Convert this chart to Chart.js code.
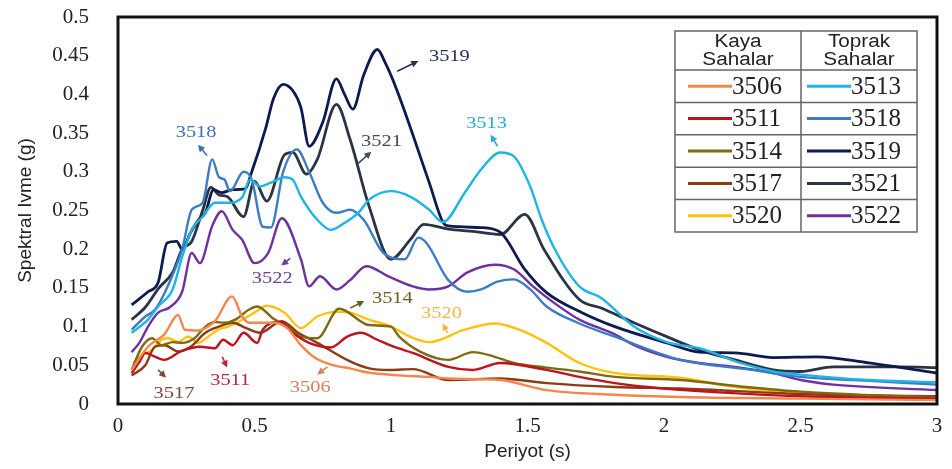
<!DOCTYPE html>
<html>
<head>
<meta charset="utf-8">
<script src="https://cdn.jsdelivr.net/npm/chart.js@4.4.1/dist/chart.umd.min.js"></script>
<style>
  html, body { margin: 0; padding: 0; background: #fff; }
</style>
</head>
<body>
<canvas id="chart" width="952" height="469"></canvas>
<script>
// ── Axis ticks ────────────────────────────────────────────────────────────────
const xTicks = [0, 0.5, 1, 1.5, 2, 2.5, 3];
const yTicks = [0, 0.05, 0.1, 0.15, 0.2, 0.25, 0.3, 0.35, 0.4, 0.45, 0.5];

// ── Kaya sahalar (rock sites): period (s) and spectral acceleration (g) ──────
const t3506 = [0.05,0.11,0.17,0.22,0.245,0.29,0.355,0.418,0.455,0.48,0.57,0.62,0.67,0.72,0.79,0.85,0.91,1.03,1.14,1.21,1.4,1.57,1.82,2.06,2.5,3.0];
const v3506 = [0.044,0.074,0.09,0.115,0.096,0.095,0.107,0.139,0.113,0.105,0.105,0.098,0.076,0.06,0.05,0.046,0.041,0.037,0.035,0.033,0.031,0.018,0.012,0.009,0.007,0.005];

const t3511 = [0.05,0.08,0.1,0.13,0.17,0.23,0.3,0.355,0.385,0.42,0.46,0.51,0.53,0.595,0.64,0.7,0.78,0.84,0.89,0.95,1.01,1.08,1.21,1.3,1.4,1.57,1.69,1.82,1.94,2.2,2.5,3.0];
const v3511 = [0.04,0.055,0.066,0.062,0.057,0.068,0.074,0.072,0.083,0.076,0.092,0.079,0.096,0.106,0.092,0.079,0.073,0.087,0.092,0.083,0.074,0.066,0.048,0.044,0.053,0.044,0.035,0.027,0.022,0.015,0.01,0.007];

const t3514 = [0.05,0.088,0.125,0.16,0.2,0.235,0.28,0.32,0.355,0.39,0.43,0.48,0.51,0.57,0.62,0.67,0.73,0.81,0.92,1.0,1.03,1.11,1.21,1.3,1.38,1.45,1.57,1.69,1.82,2.06,2.3,2.5,3.0];
const v3514 = [0.044,0.074,0.085,0.076,0.08,0.079,0.085,0.1,0.106,0.105,0.109,0.122,0.126,0.11,0.1,0.087,0.085,0.123,0.102,0.1,0.087,0.067,0.057,0.067,0.061,0.053,0.047,0.042,0.035,0.031,0.022,0.016,0.008];

const t3517 = [0.05,0.1,0.135,0.17,0.22,0.27,0.32,0.37,0.42,0.47,0.52,0.6,0.66,0.73,0.85,0.92,1.0,1.08,1.21,1.4,1.57,1.82,2.06,2.5,3.0];
const v3517 = [0.037,0.05,0.074,0.076,0.068,0.075,0.092,0.1,0.105,0.098,0.092,0.107,0.092,0.079,0.055,0.046,0.044,0.045,0.031,0.033,0.027,0.022,0.02,0.013,0.01];

const t3520 = [0.055,0.088,0.125,0.16,0.185,0.22,0.257,0.294,0.33,0.367,0.403,0.455,0.5,0.545,0.61,0.67,0.73,0.8,0.85,0.92,1.0,1.07,1.14,1.27,1.38,1.47,1.57,1.69,1.82,2.06,2.26,2.5,3.0];
const v3520 = [0.053,0.063,0.07,0.083,0.085,0.08,0.087,0.079,0.087,0.096,0.1,0.109,0.118,0.127,0.118,0.098,0.113,0.119,0.118,0.109,0.1,0.087,0.08,0.096,0.104,0.096,0.079,0.053,0.04,0.034,0.022,0.014,0.008];

// ── Toprak sahalar (soil sites) ───────────────────────────────────────────────
const t3513 = [0.05,0.11,0.147,0.2,0.235,0.27,0.31,0.355,0.403,0.455,0.484,0.52,0.56,0.61,0.64,0.67,0.73,0.78,0.83,0.88,0.92,1.0,1.07,1.14,1.19,1.27,1.33,1.4,1.45,1.51,1.55,1.6,1.69,1.77,1.89,2.01,2.13,2.28,2.4,2.5,2.75,3.0];
const v3513 = [0.092,0.109,0.126,0.148,0.19,0.225,0.242,0.26,0.26,0.267,0.29,0.281,0.286,0.293,0.29,0.268,0.238,0.225,0.234,0.247,0.264,0.275,0.268,0.251,0.235,0.273,0.303,0.325,0.32,0.281,0.24,0.2,0.152,0.137,0.1,0.08,0.072,0.053,0.042,0.038,0.031,0.028];

const t3518 = [0.05,0.1,0.136,0.17,0.235,0.27,0.31,0.345,0.37,0.39,0.41,0.46,0.49,0.53,0.56,0.605,0.655,0.7,0.75,0.8,0.85,0.9,0.97,1.05,1.1,1.13,1.21,1.28,1.33,1.39,1.45,1.51,1.57,1.69,1.82,2.06,2.3,2.5,2.75,3.0];
const v3518 = [0.096,0.113,0.122,0.143,0.2,0.251,0.26,0.316,0.293,0.29,0.275,0.3,0.29,0.229,0.228,0.3,0.329,0.3,0.26,0.247,0.251,0.238,0.196,0.187,0.215,0.208,0.16,0.145,0.148,0.158,0.161,0.148,0.126,0.104,0.087,0.057,0.045,0.035,0.03,0.025];

const t3519 = [0.05,0.11,0.147,0.18,0.215,0.235,0.265,0.295,0.32,0.35,0.38,0.42,0.466,0.49,0.54,0.57,0.605,0.64,0.67,0.7,0.75,0.8,0.83,0.86,0.9,0.95,0.98,1.02,1.14,1.19,1.21,1.33,1.4,1.49,1.57,1.7,1.82,2.01,2.13,2.26,2.4,2.56,2.75,3.0];
const v3519 = [0.128,0.145,0.157,0.208,0.21,0.2,0.221,0.238,0.247,0.277,0.273,0.277,0.278,0.3,0.355,0.395,0.413,0.405,0.383,0.333,0.364,0.42,0.4,0.381,0.425,0.458,0.44,0.407,0.286,0.235,0.23,0.228,0.222,0.174,0.144,0.118,0.1,0.079,0.067,0.066,0.06,0.061,0.053,0.04];

const t3521 = [0.05,0.1,0.15,0.2,0.235,0.27,0.31,0.34,0.37,0.4,0.46,0.5,0.545,0.61,0.64,0.69,0.73,0.8,0.85,0.92,1.0,1.07,1.12,1.21,1.3,1.4,1.49,1.56,1.69,1.77,1.89,2.01,2.13,2.26,2.4,2.5,2.62,2.87,3.0];
const v3521 = [0.109,0.125,0.15,0.17,0.2,0.21,0.25,0.28,0.27,0.268,0.242,0.288,0.262,0.322,0.325,0.297,0.316,0.387,0.342,0.255,0.187,0.212,0.232,0.226,0.223,0.219,0.245,0.2,0.135,0.124,0.105,0.087,0.07,0.057,0.044,0.042,0.048,0.048,0.047];

const t3522 = [0.05,0.08,0.11,0.147,0.19,0.235,0.27,0.3,0.345,0.38,0.42,0.455,0.5,0.55,0.6,0.67,0.7,0.74,0.8,0.85,0.91,0.99,1.08,1.14,1.21,1.28,1.38,1.45,1.52,1.6,1.69,1.82,1.89,2.01,2.13,2.28,2.4,2.5,2.62,3.0];
const v3522 = [0.067,0.08,0.1,0.118,0.125,0.145,0.195,0.182,0.23,0.249,0.225,0.212,0.182,0.195,0.24,0.187,0.152,0.165,0.148,0.16,0.178,0.165,0.152,0.148,0.152,0.17,0.18,0.174,0.152,0.13,0.109,0.09,0.076,0.061,0.053,0.047,0.04,0.031,0.025,0.018];

// ── Series list (legend order: left column rock, right column soil) ──────────
const rockSeries = [
  { name: "3506", t: t3506, v: v3506, color: "#F4874B" },
  { name: "3511", t: t3511, v: v3511, color: "#C0111F" },
  { name: "3514", t: t3514, v: v3514, color: "#7F6A12" },
  { name: "3517", t: t3517, v: v3517, color: "#8A3C12" },
  { name: "3520", t: t3520, v: v3520, color: "#FFC20E" }
];
const soilSeries = [
  { name: "3513", t: t3513, v: v3513, color: "#1FB4E8" },
  { name: "3518", t: t3518, v: v3518, color: "#3B7DC4" },
  { name: "3519", t: t3519, v: v3519, color: "#0E1A4F" },
  { name: "3521", t: t3521, v: v3521, color: "#2B3444" },
  { name: "3522", t: t3522, v: v3522, color: "#7030A0" }
];

// ── In-plot labels with small arrows (data units) ─────────────────────────────
const notes = [
  { text: "3518", x: 0.286, y: 0.351, from: [0.326, 0.321], to: [0.293, 0.335], color: "#3F6FAF" },
  { text: "3519", x: 1.214, y: 0.449, from: [1.023, 0.430], to: [1.100, 0.443], color: "#27325A" },
  { text: "3521", x: 0.965, y: 0.339, from: [0.880, 0.311], to: [0.928, 0.326], color: "#444A55" },
  { text: "3513", x: 1.350, y: 0.363, from: [1.390, 0.333], to: [1.365, 0.348], color: "#2AAAE0" },
  { text: "3522", x: 0.565, y: 0.162, from: [0.631, 0.188], to: [0.598, 0.179], color: "#6E3F98" },
  { text: "3514", x: 1.005, y: 0.136, from: [0.851, 0.124], to: [0.902, 0.133], color: "#6B5C22" },
  { text: "3520", x: 1.185, y: 0.117, from: [1.207, 0.092], to: [1.189, 0.104], color: "#F2B845" },
  { text: "3517", x: 0.205, y: 0.014, from: [0.147, 0.044], to: [0.176, 0.034], color: "#7A4A3C" },
  { text: "3511", x: 0.411, y: 0.030, from: [0.382, 0.061], to: [0.400, 0.047], color: "#B52A3A" },
  { text: "3506", x: 0.704, y: 0.021, from: [0.767, 0.048], to: [0.730, 0.038], color: "#D6805E" }
];

const allSeries = rockSeries.concat(soilSeries);
const datasets = allSeries.map(s => ({
  label: s.name,
  data: s.t.map((t, i) => ({ x: t, y: s.v[i] })),
  borderColor: s.color,
  backgroundColor: s.color,
  borderWidth: (s.name === "3519" || s.name === "3521") ? 2.8 : 2.4,
  pointRadius: 0,
  fill: false,
  cubicInterpolationMode: "monotone"
}));

// Draw text stretched horizontally (the source figure is widened)
function wideText(ctx, text, x, y, sx) {
  ctx.save();
  ctx.translate(x, y);
  ctx.scale(sx, 1);
  ctx.fillText(text, 0, 0);
  ctx.restore();
}

function arrow(ctx, x1, y1, x2, y2, color) {
  const ang = Math.atan2(y2 - y1, x2 - x1);
  ctx.save();
  ctx.strokeStyle = color;
  ctx.fillStyle = color;
  ctx.lineWidth = 1.6;
  ctx.beginPath();
  ctx.moveTo(x1, y1);
  ctx.lineTo(x2 - 4 * Math.cos(ang), y2 - 4 * Math.sin(ang));
  ctx.stroke();
  ctx.beginPath();
  ctx.moveTo(x2, y2);
  ctx.lineTo(x2 - 7 * Math.cos(ang) + 3.5 * Math.sin(ang), y2 - 7 * Math.sin(ang) - 3.5 * Math.cos(ang));
  ctx.lineTo(x2 - 7 * Math.cos(ang) - 3.5 * Math.sin(ang), y2 - 7 * Math.sin(ang) + 3.5 * Math.cos(ang));
  ctx.closePath();
  ctx.fill();
  ctx.restore();
}

// Scales add their own label overhang padding; the frame is placed by layout padding instead
function noOverhang(s) {
  s.paddingTop = 0; s.paddingBottom = 0; s.paddingLeft = 0; s.paddingRight = 0;
}

// ── Frame, labels and legend table ────────────────────────────────────────────
const decorPlugin = {
  id: "decor",
  afterDatasetsDraw(chart) {
    const ctx = chart.ctx;
    const a = chart.chartArea;
    const xs = chart.scales.x, ys = chart.scales.y;

    // plot frame
    ctx.save();
    ctx.strokeStyle = "#111";
    ctx.lineWidth = 3;
    ctx.strokeRect(a.left, a.top, a.right - a.left, a.bottom - a.top);
    ctx.restore();

    // labels + arrows
    ctx.save();
    ctx.font = "17px 'Liberation Serif'";
    ctx.textAlign = "center";
    ctx.textBaseline = "middle";
    notes.forEach(n => {
      ctx.fillStyle = n.color;
      wideText(ctx, n.text, xs.getPixelForValue(n.x), ys.getPixelForValue(n.y), 1.2);
      arrow(ctx,
        xs.getPixelForValue(n.from[0]), ys.getPixelForValue(n.from[1]),
        xs.getPixelForValue(n.to[0]), ys.getPixelForValue(n.to[1]), n.color);
    });
    ctx.restore();

    // legend table
    const L = 675, M = 801, R = 917, T = 31, H = 70, rowH = 32.4;
    ctx.save();
    ctx.fillStyle = "#fff";
    ctx.fillRect(L, T, R - L, H - T + rowH * 5);
    ctx.strokeStyle = "#666";
    ctx.lineWidth = 1.5;
    ctx.strokeRect(L, T, R - L, H - T + rowH * 5);
    ctx.beginPath();
    ctx.moveTo(M, T); ctx.lineTo(M, H + rowH * 5);
    for (let i = 0; i < 5; i++) {
      ctx.moveTo(L, H + rowH * i); ctx.lineTo(R, H + rowH * i);
    }
    ctx.stroke();

    ctx.fillStyle = "#222";
    ctx.textAlign = "center";
    ctx.textBaseline = "middle";
    ctx.font = "18px 'Liberation Sans'";
    wideText(ctx, "Kaya", (L + M) / 2, 42, 1.15);
    wideText(ctx, "Sahalar", (L + M) / 2, 60, 1.15);
    wideText(ctx, "Toprak", (M + R) / 2, 42, 1.15);
    wideText(ctx, "Sahalar", (M + R) / 2, 60, 1.15);

    const cols = [{ list: rockSeries, x0: 688 }, { list: soilSeries, x0: 807 }];
    ctx.font = "25px 'Liberation Serif'";
    ctx.textAlign = "left";
    cols.forEach(c => {
      c.list.forEach((s, i) => {
        const cy = H + rowH * i + rowH / 2;
        ctx.strokeStyle = s.color;
        ctx.lineWidth = 3;
        ctx.beginPath();
        ctx.moveTo(c.x0, cy); ctx.lineTo(c.x0 + 44, cy);
        ctx.stroke();
        ctx.fillStyle = "#222";
        ctx.fillText(s.name, c.x0 + 44, cy + 1);
      });
    });
    ctx.restore();
  }
};

new Chart(document.getElementById("chart"), {
  type: "line",
  data: { datasets },
  plugins: [decorPlugin],
  options: {
    responsive: false,
    animation: false,
    layout: { padding: { top: 17, right: 15, left: 0, bottom: 0 } },
    plugins: { legend: { display: false }, tooltip: { enabled: false } },
    scales: {
      x: {
        type: "linear",
        min: 0, max: 3,
        grid: { display: false, drawTicks: false },
        border: { display: false },
        afterBuildTicks: s => { s.ticks = xTicks.map(v => ({ value: v })); },
        afterFit: s => { s.height = 65; noOverhang(s); },
        ticks: {
          padding: 10,
          color: "#222",
          font: { family: "'Liberation Serif'", size: 21 },
          callback: v => String(v)
        },
        title: {
          display: true,
          text: "Periyot (s)",
          color: "#222",
          font: { family: "'Liberation Sans'", size: 19 },
          padding: { top: 0, bottom: 6 }
        }
      },
      y: {
        type: "linear",
        min: 0, max: 0.5,
        grid: { display: false, drawTicks: false },
        border: { display: false },
        afterBuildTicks: s => { s.ticks = yTicks.map(v => ({ value: v })); },
        afterFit: s => { s.width = 118; noOverhang(s); },
        ticks: {
          padding: 29,
          color: "#222",
          font: { family: "'Liberation Serif'", size: 21 },
          callback: v => String(v)
        },
        title: {
          display: true,
          text: "Spektral Ivme (g)",
          color: "#222",
          font: { family: "'Liberation Sans'", size: 19 },
          padding: { top: 14, bottom: 0 }
        }
      }
    }
  }
});
</script>
</body>
</html>
